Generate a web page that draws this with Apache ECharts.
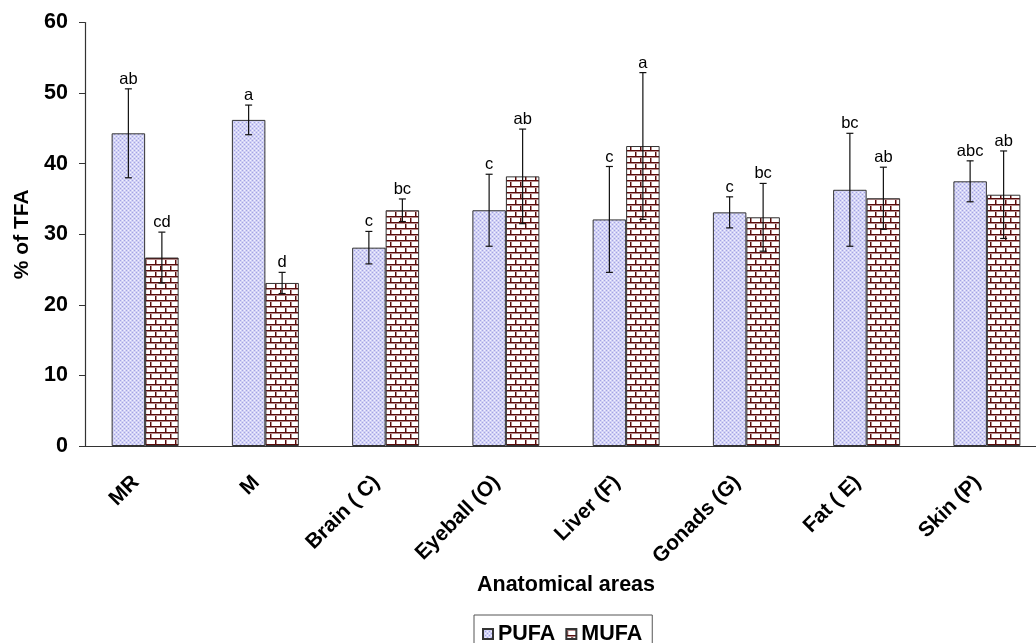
<!DOCTYPE html>
<html>
<head>
<meta charset="utf-8">
<script src="https://cdn.jsdelivr.net/npm/echarts@6/dist/echarts.min.js"></script>
<style>
  html, body { margin: 0; padding: 0; background: #fff; }
  #chart { width: 1036px; height: 643px; }
</style>
</head>
<body>
<div id="chart"></div>
<script>
// 数据
const categories = ['MR', 'M', 'Brain ( C)', 'Eyeball (O)', 'Liver (F)', 'Gonads (G)', 'Fat ( E)', 'Skin (P)']
const pufa = [44.3, 46.2, 28.1, 33.4, 32.1, 33.1, 36.3, 37.5]
const pufaErr = [6.3, 2.1, 2.3, 5.1, 7.5, 2.2, 8.0, 2.9]
const pufaLetters = ['ab', 'a', 'c', 'c', 'c', 'c', 'bc', 'abc']
const mufa = [26.7, 23.1, 33.4, 38.2, 42.5, 32.4, 35.1, 35.6]
const mufaErr = [3.6, 1.5, 1.6, 6.7, 10.4, 4.8, 4.4, 6.2]
const mufaLetters = ['cd', 'd', 'bc', 'ab', 'a', 'bc', 'ab', 'ab']
const yTicks = [0, 10, 20, 30, 40, 50, 60]

const FONT = 'Arial, "Liberation Sans", sans-serif'
const BAR_W = 33.5

// 点状填充
function dotPattern () {
  let c = document.createElement('canvas')
  c.width = 4; c.height = 4
  let g = c.getContext('2d')
  g.fillStyle = '#d2d2f5'; g.fillRect(0, 0, 4, 4)
  g.fillStyle = '#a4a4e4'
  g.fillRect(0, 0, 1, 1); g.fillRect(2, 2, 1, 1)
  g.fillStyle = '#f2f2ff'
  g.fillRect(2, 0, 1, 1); g.fillRect(0, 2, 1, 1)
  return c
}
// 砖块填充
function brickPattern () {
  let c = document.createElement('canvas')
  c.width = 10; c.height = 12
  let g = c.getContext('2d')
  g.fillStyle = '#ffffff'; g.fillRect(0, 0, 10, 12)
  g.fillStyle = '#5a0c0c'
  g.fillRect(0, 0, 10, 1)
  g.fillRect(0, 6, 10, 1)
  g.fillRect(0, 0, 1, 6)
  g.fillRect(5, 6, 1, 6)
  g.fillStyle = '#b48a8a'
  g.fillRect(0, 1, 10, 1)
  g.fillRect(0, 7, 10, 1)
  g.fillRect(1, 1, 1, 5)
  g.fillRect(6, 7, 1, 5)
  return c
}

// 误差线 + 字母
function errSeries (name, values, errs, letters, side) {
  return {
    type: 'custom',
    name: name + '_err',
    z: 5,
    clip: false,
    silent: true,
    data: values.map((v, i) => [i, v, errs[i]]),
    renderItem (params, api) {
      let i = api.value(0), v = api.value(1), e = api.value(2)
      let top = api.coord([i, v + e])
      let bot = api.coord([i, v - e])
      let x = top[0] + side * BAR_W / 2
      let cap = 3.5
      let st = { stroke: '#111', lineWidth: 1.2 }
      return {
        type: 'group',
        children: [
          { type: 'line', shape: { x1: x, y1: top[1], x2: x, y2: bot[1] }, style: st },
          { type: 'line', shape: { x1: x - cap, y1: top[1], x2: x + cap, y2: top[1] }, style: st },
          { type: 'line', shape: { x1: x - cap, y1: bot[1], x2: x + cap, y2: bot[1] }, style: st },
          {
            type: 'text',
            style: {
              x: x, y: top[1] - 1, text: letters[params.dataIndex],
              textAlign: 'center', textVerticalAlign: 'bottom',
              font: '16.5px ' + FONT, fill: '#000'
            }
          }
        ]
      }
    }
  }
}

let chart = echarts.init(document.getElementById('chart'))
let dots = dotPattern()
let bricks = brickPattern()

chart.setOption({
  animation: false,
  backgroundColor: '#fff',
  grid: { left: 85, top: 22.5, width: 962, height: 423.5, outerBoundsMode: 'none', containLabel: false },
  legend: {
    data: ['PUFA', 'MUFA'],
    left: 474,
    top: 615,
    padding: [8, 10, 6, 8],
    borderColor: '#555',
    borderWidth: 1,
    itemWidth: 10,
    itemHeight: 10,
    itemGap: 10,
    icon: 'rect',
    textStyle: { fontFamily: FONT, fontWeight: 'bold', fontSize: 21.5, color: '#000' }
  },
  xAxis: {
    type: 'category',
    data: categories,
    name: 'Anatomical areas',
    nameLocation: 'middle',
    nameGap: 127,
    nameTextStyle: { fontFamily: FONT, fontWeight: 'bold', fontSize: 21.5, color: '#000' },
    axisLine: { lineStyle: { color: '#333', width: 1.2 } },
    axisTick: { length: 6, lineStyle: { color: '#333' } },
    axisLabel: { rotate: 45, margin: 24, padding: [0, 13, 0, 0], fontFamily: FONT, fontWeight: 'bold', fontSize: 21, color: '#000', interval: 0 },
    splitLine: { show: false }
  },
  yAxis: {
    type: 'value',
    min: yTicks[0],
    max: yTicks[yTicks.length - 1],
    interval: 10,
    name: '% of TFA',
    nameLocation: 'middle',
    nameGap: 52,
    nameTextStyle: { fontFamily: FONT, fontWeight: 'bold', fontSize: 21, color: '#000' },
    axisLine: { show: true, lineStyle: { color: '#333', width: 1.2 } },
    axisTick: { show: true, length: 6, lineStyle: { color: '#333' } },
    axisLabel: { margin: 17, fontFamily: FONT, fontWeight: 'bold', fontSize: 21.5, color: '#000' },
    splitLine: { show: false }
  },
  series: [
    {
      name: 'PUFA',
      type: 'bar',
      data: pufa,
      barWidth: BAR_W,
      barGap: '0%',
      itemStyle: { color: { image: dots, repeat: 'repeat' }, borderColor: '#333', borderWidth: 1 }
    },
    {
      name: 'MUFA',
      type: 'bar',
      data: mufa,
      barWidth: BAR_W,
      barGap: '0%',
      itemStyle: { color: { image: bricks, repeat: 'repeat' }, borderColor: '#333', borderWidth: 1 }
    },
    errSeries('PUFA', pufa, pufaErr, pufaLetters, -1),
    errSeries('MUFA', mufa, mufaErr, mufaLetters, 1)
  ]
})
</script>
</body>
</html>
